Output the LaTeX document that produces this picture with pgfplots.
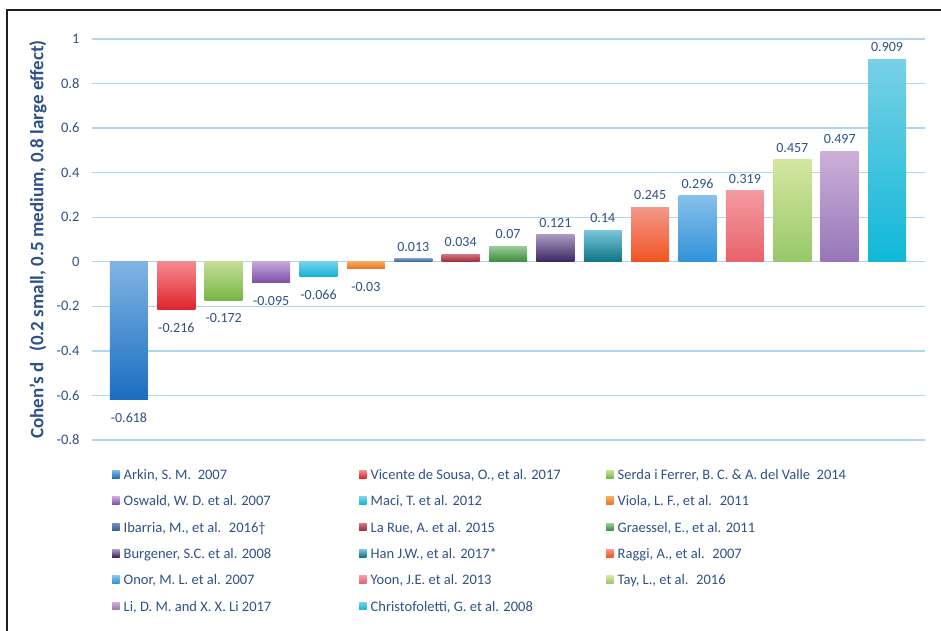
\documentclass[border=0pt]{standalone}
\usepackage{pgfplots}
\pgfplotsset{compat=1.18}
\usepackage{fontspec}
\setmainfont{Carlito}
\definecolor{txt}{HTML}{2F5088}
\definecolor{gridc}{HTML}{B0D6EE}
\definecolor{aT}{HTML}{80B4E4}\definecolor{aB}{HTML}{1A6EC0}
\definecolor{bT}{HTML}{F48A8E}\definecolor{bB}{HTML}{E0222C}
\definecolor{cT}{HTML}{C4DE96}\definecolor{cB}{HTML}{76B646}
\definecolor{dT}{HTML}{C4A6D6}\definecolor{dB}{HTML}{7E4EA8}
\definecolor{eT}{HTML}{74D2EA}\definecolor{eB}{HTML}{12B2D4}
\definecolor{fT}{HTML}{F4AA60}\definecolor{fB}{HTML}{EA7424}
\definecolor{gT}{HTML}{7090C0}\definecolor{gB}{HTML}{3A5A92}
\definecolor{hT}{HTML}{D07482}\definecolor{hB}{HTML}{A02838}
\definecolor{iT}{HTML}{98CC98}\definecolor{iB}{HTML}{3A8A3A}
\definecolor{jT}{HTML}{A898C0}\definecolor{jB}{HTML}{3A2662}
\definecolor{kT}{HTML}{78C4DA}\definecolor{kB}{HTML}{0E7484}
\definecolor{lT}{HTML}{F2988A}\definecolor{lB}{HTML}{F25420}
\definecolor{mT}{HTML}{86C0EA}\definecolor{mB}{HTML}{3092DA}
\definecolor{nT}{HTML}{F49AA2}\definecolor{nB}{HTML}{E8626A}
\definecolor{oT}{HTML}{D4E6A0}\definecolor{oB}{HTML}{98C868}
\definecolor{pT}{HTML}{CCB0D8}\definecolor{pB}{HTML}{9676B8}
\definecolor{qT}{HTML}{78D0E6}\definecolor{qB}{HTML}{10B8D8}
\pgfplotsset{
  sq/.style={legend image code/.code={\path[##1] (0pt,-3.8pt) rectangle (7.5pt,3.8pt);}},
  bb/.style 2 args={draw=none, top color=#1, bottom color=#2, bar shift=0pt, bar width=38pt, sq},
}
\newcommand{\lgd}[1]{\addlegendentry{\hspace*{4pt}\makebox[235.5pt][l]{\strut #1}}}
\begin{document}
\begin{tikzpicture}[x=1pt,y=1pt]
\useasboundingbox (0,0) rectangle (941,630);
\draw[line width=2.6pt, black!88] (7,-2) -- (7,620) -- (943,620);
\begin{axis}[
  at={(92pt,190pt)}, anchor=south west,
  scale only axis, width=833pt, height=401pt,
  xmin=-0.78, xmax=16.8, ymin=-0.8, ymax=1,
  enlargelimits=false,
  ybar,
  axis line style={draw=none},
  xtick=\empty,
  ytick={-0.8,-0.6,-0.4,-0.2,0,0.2,0.4,0.6,0.8,1},
  major tick length=0pt,
  ymajorgrids,
  grid style={gridc, line width=1.4pt},
  /pgf/number format/assume math mode=true,
  yticklabel style={font=\fontsize{14.5}{16}\selectfont, text=txt, xshift=-9pt},
  every axis y label/.style={at={(axis description cs:-0.0648,0.5)}, rotate=90, anchor=center},
  ylabel={\bfseries Cohen's d\,\, (0.2 small, 0.5 medium, 0.8 large effect)},
  ylabel style={font=\fontsize{19}{21}\selectfont, text=txt},
  visualization depends on={rawy \as \rawy},
  nodes near coords={\pgfmathprintnumber[fixed,precision=3]{\pgfplotspointmeta}},
  every node near coord/.append style={font=\fontsize{14}{16}\selectfont, text=txt,
    yshift={(\rawy<0)*(-10)+(\rawy>=0)*4}},
  legend columns=3,
  legend style={at={(axis description cs:0.024,-0.0686)}, anchor=north west,
    draw=none, fill=none, inner sep=0pt, row sep=12.9pt, column sep=0pt,
    nodes={inner sep=0pt}, font=\fontsize{14.5}{17}\selectfont, text=txt},
  legend cell align=left,
]
\addplot[bb={aT}{aB}] coordinates {(0,-0.618)}; \lgd{Arkin, S. M.~ 2007}
\addplot[bb={bT}{bB}] coordinates {(1,-0.216)}; \lgd{Vicente de Sousa, O., et al. 2017}
\addplot[bb={cT}{cB}] coordinates {(2,-0.172)}; \lgd{Serda i Ferrer, B. C. \& A. del Valle~ 2014}
\addplot[bb={dT}{dB}] coordinates {(3,-0.095)}; \lgd{Oswald, W. D. et al. 2007}
\addplot[bb={eT}{eB}] coordinates {(4,-0.066)}; \lgd{Maci, T. et al. 2012}
\addplot[bb={fT}{fB}] coordinates {(5,-0.03)}; \lgd{Viola, L. F., et al.~ 2011}
\addplot[bb={gT}{gB}] coordinates {(6,0.013)}; \lgd{Ibarria, M., et al.~ 2016†}
\addplot[bb={hT}{hB}] coordinates {(7,0.034)}; \lgd{La Rue, A. et al. 2015}
\addplot[bb={iT}{iB}] coordinates {(8,0.07)}; \lgd{Graessel, E., et al. 2011}
\addplot[bb={jT}{jB}] coordinates {(9,0.121)}; \lgd{Burgener, S.C. et al. 2008}
\addplot[bb={kT}{kB}] coordinates {(10,0.14)}; \lgd{Han J.W., et al. 2017*}
\addplot[bb={lT}{lB}] coordinates {(11,0.245)}; \lgd{Raggi, A., et al.~ 2007}
\addplot[bb={mT}{mB}] coordinates {(12,0.296)}; \lgd{Onor, M. L. et al. 2007}
\addplot[bb={nT}{nB}] coordinates {(13,0.319)}; \lgd{Yoon, J.E. et al. 2013}
\addplot[bb={oT}{oB}] coordinates {(14,0.457)}; \lgd{Tay, L., et al.~ 2016}
\addplot[bb={pT}{pB}] coordinates {(15,0.497)}; \lgd{Li, D. M. and X. X. Li 2017}
\addplot[bb={qT}{qB}] coordinates {(16,0.909)}; \lgd{Christofoletti, G. et al. 2008}
\end{axis}
\end{tikzpicture}
\end{document}
